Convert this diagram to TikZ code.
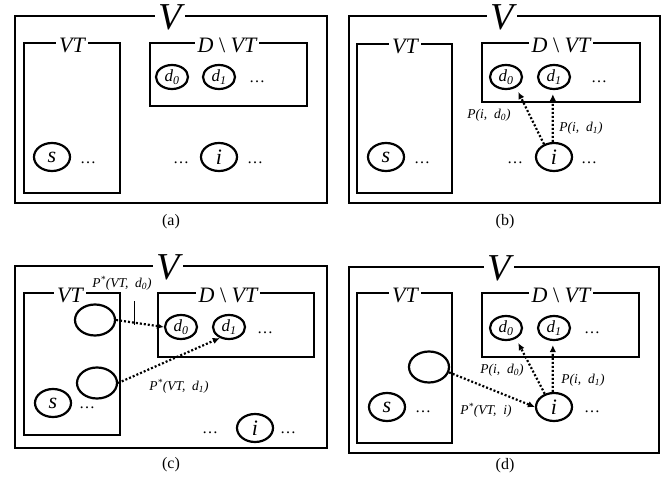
\documentclass[tikz,border=0pt]{standalone}
\usepackage{fontspec}
\setmainfont{Liberation Serif}
\usetikzlibrary{shapes.geometric,arrows.meta,calc}
\begin{document}
\begin{tikzpicture}[x=1pt,y=-1pt,
  box/.style={draw,line width=2.2pt},
  big/.style={fill=white,inner xsep=3pt,inner ysep=0pt,font=\fontsize{38}{38}\selectfont\itshape},
  sub/.style={fill=white,inner xsep=3pt,inner ysep=0pt,font=\fontsize{22}{22}\selectfont\itshape},
  el/.style={ellipse,draw,line width=2.2pt,inner sep=0pt},
  dnode/.style={el,minimum width=32pt,minimum height=24pt,font=\fontsize{17}{17}\selectfont\itshape},
  snode/.style={el,minimum width=36pt,minimum height=28pt,font=\fontsize{22}{22}\selectfont\itshape},
  enode/.style={el,minimum width=40pt,minimum height=31pt},
  dotsty/.style={font=\fontsize{16}{16}\selectfont,inner sep=0pt},
  lab/.style={font=\fontsize{13.5}{13.5}\selectfont\itshape,inner sep=0pt},
  capt/.style={font=\fontsize{16}{16}\selectfont},
  arr/.style={line width=2.2pt,dash pattern=on 2pt off 2pt,-{Latex[length=7pt,width=6.5pt]}},
  thinline/.style={line width=0.6pt},
]
\useasboundingbox (0,0) rectangle (668,497);
\fill[white] (0,0) rectangle (668,497);
% ---------------- (a)
\draw[box] (15,16) rectangle (327,203);
\node[big] (aV) at (170,17) {V};
\draw[box] (24,43) rectangle (120,193);
\node[sub] (aVT) at (72,45) {VT};
\draw[box] (150,43) rectangle (307,106);
\node[sub] (aD) at (227,45) {D \textup{\textbackslash} VT};
\node[dnode] (ad0) at (172,77) {d\textsubscript{0}};
\node[dnode] (ad1) at (219,77) {d\textsubscript{1}};
\node[dotsty] (aq1) at (257,82) {\ldots};
\node[snode] (as) at (52,157) {s};
\node[dotsty] (aq2) at (88,163) {\ldots};
\node[dotsty] (aq3) at (181,163) {\ldots};
\node[snode] (ai) at (219,157) {i};
\node[dotsty] (aq4) at (255,163) {\ldots};
\node[capt] (acap) at (171,222) {(a)};
% ---------------- (b)
\draw[box] (349,16) rectangle (660,203);
\node[big] (bV) at (502,17) {V};
\draw[box] (357,44) rectangle (452,193);
\node[sub] (bVT) at (405,46) {VT};
\draw[box] (482,43) rectangle (640,102);
\node[sub] (bD) at (561,45) {D \textup{\textbackslash} VT};
\node[dnode] (bd0) at (506,77) {d\textsubscript{0}};
\node[dnode] (bd1) at (554,77) {d\textsubscript{1}};
\node[dotsty] (bq1) at (599,82) {\ldots};
\node[snode] (bs) at (386,157) {s};
\node[dotsty] (bq2) at (422,163) {\ldots};
\node[dotsty] (bq3) at (515,163) {\ldots};
\node[snode] (bi) at (554,157) {i};
\node[dotsty] (bq4) at (589,163) {\ldots};
\draw[arr] (bi.128) -- ($(bd0.-50)+(3,4)$);
\draw[arr] (bi.95) -- ($(bd1.-95)+(0,4)$);
\node[lab] (bl0) at (489,115) {P(i,\ \ d\textsubscript{0})};
\node[lab] (bl1) at (581,128) {P(i,\ \ d\textsubscript{1})};
\node[capt] (bcap) at (505,222) {(b)};
% ---------------- (c)
\draw[box] (15,266) rectangle (327,448);
\node[big] (cV) at (168,267) {V};
\draw[box] (24,293) rectangle (120,435);
\node[sub] (cVT) at (70,295) {VT};
\draw[box] (158,293) rectangle (314,357);
\node[sub] (cD) at (228,295) {D \textup{\textbackslash} VT};
\node[dnode] (cd0) at (181,327) {d\textsubscript{0}};
\node[dnode] (cd1) at (229,327) {d\textsubscript{1}};
\node[dotsty] (cq1) at (265,333) {\ldots};
\node[enode] (ce1) at (95,320) {};
\node[enode] (ce2) at (97,383) {};
\node[snode] (cs) at (53,403) {s};
\node[dotsty] (cq2) at (87,408) {\ldots};
\node[dotsty] (cq3) at (210,433) {\ldots};
\node[snode] (ci) at (255,428) {i};
\node[dotsty] (cq4) at (288,433) {\ldots};
\draw[arr] (ce1.east) -- (cd0.west);
\draw[arr] (ce2.east) -- (cd1.-130);
\node[lab] (cl0) at (122,283) {P\textsuperscript{*}(VT,\ \ d\textsubscript{0})};
\coordinate (ct1) at (134,301);
\coordinate (ct2) at (134,325);
\draw[thinline] (ct1) -- (ct2);
\node[lab] (cl1) at (179,386) {P\textsuperscript{*}(VT,\ \ d\textsubscript{1})};
\node[capt] (ccap) at (171,465) {(c)};
% ---------------- (d)
\draw[box] (349,267) rectangle (659,453);
\node[big] (dV) at (499,268) {V};
\draw[box] (357,293) rectangle (452,443);
\node[sub] (dVT) at (405,295) {VT};
\draw[box] (482,293) rectangle (639,357);
\node[sub] (dD) at (561,295) {D \textup{\textbackslash} VT};
\node[dnode] (dd0) at (506,328) {d\textsubscript{0}};
\node[dnode] (dd1) at (554,328) {d\textsubscript{1}};
\node[dotsty] (dq1) at (592,333) {\ldots};
\node[enode] (de) at (429,367) {};
\node[snode] (ds) at (387,407) {s};
\node[dotsty] (dq2) at (423,412) {\ldots};
\node[snode] (di) at (554,407) {i};
\node[dotsty] (dq4) at (592,412) {\ldots};
\draw[arr] (de.-15) -- (di.west);
\draw[arr] (di.125) -- ($(dd0.-50)+(3,4)$);
\draw[arr] (di.95) -- ($(dd1.-95)+(0,4)$);
\node[lab] (dl0) at (502,370) {P(i,\ \ d\textsubscript{0})};
\node[lab] (dl1) at (583,380) {P(i,\ \ d\textsubscript{1})};
\node[lab] (dl2) at (486,410) {P\textsuperscript{*}(VT,\ \ i)};
\node[capt] (dcap) at (505,466) {(d)};
\end{tikzpicture}
\end{document}
